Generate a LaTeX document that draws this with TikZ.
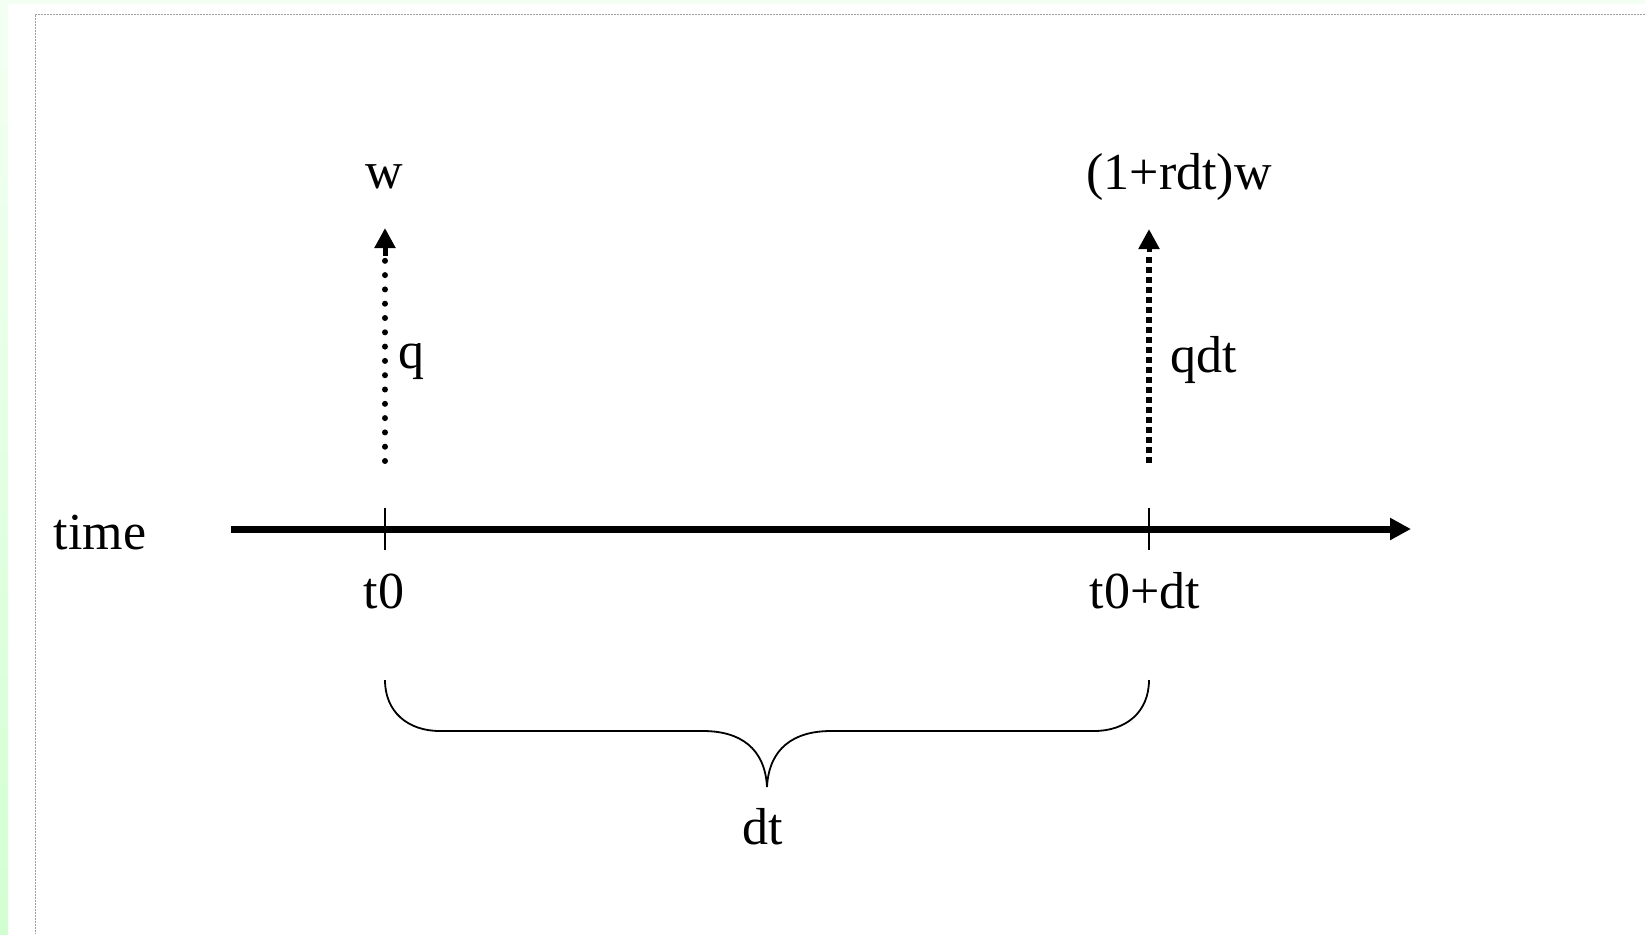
\documentclass[tikz,border=0pt]{standalone}
\usepackage{fontspec}
\setmainfont{Liberation Serif}
\usetikzlibrary{arrows.meta}
\definecolor{stripgreen}{HTML}{D2FFD2}
\definecolor{stripgreenpale}{HTML}{F4FFF4}
\tikzset{
  lbl/.style={inner sep=0pt, font=\fontsize{26}{30}\selectfont},
  axis/.style={line width=3.5pt, -{Triangle[length=10.5pt,width=10.5pt]}},
  tick/.style={line width=0.8pt},
  flowhead/.style={line width=2.5pt, -{Triangle[length=10pt,width=10pt]}},
  brace/.style={line width=0.9pt},
  frame/.style={draw=gray!75, line width=0.5pt, dash pattern=on 1pt off 0.5pt}
}
\begin{document}
\begin{tikzpicture}[x=0.5pt, y=-0.5pt]
  \useasboundingbox (0,0) rectangle (1645,934);
  % page edges
  \shade[top color=stripgreenpale, bottom color=stripgreen] (0,0) rectangle (8,934);
  \fill[stripgreenpale] (0,0) rectangle (1645,4);
  \draw[frame] (1645,14) -- (35,14) -- (35,934);

  % time axis
  \coordinate (axstart) at (231,529);
  \coordinate (axend) at (1411,529);
  \draw[axis] (axstart) -- (axend);
  \node[lbl] (time) at (100,533) {time};

  % instants on the axis
  \coordinate (t0) at (385,529);
  \coordinate (t1) at (1149,529);
  \draw[tick] (385,508) -- (385,550);
  \draw[tick] (1149,508) -- (1149,550);
  \node[lbl] (t0lbl) at (384,591) {t0};
  \node[lbl] (t1lbl) at (1145,591) {t0+dt};

  % payments at each instant
  \node[lbl] (w0) at (384,177) {w};
  \node[lbl] (w1) at (1179,177) {(1+rdt)w};
  \coordinate (q0base) at (385,464);
  \coordinate (q0neck) at (385,256);
  \coordinate (q0tip) at (385,228);
  \coordinate (q1base) at (1149,464);
  \coordinate (q1neck) at (1149,252);
  \coordinate (q1tip) at (1149,229);
  % round dots below w, square dots below (1+rdt)w
  \foreach \yy in {461,446.7,...,255} \fill (385,\yy) circle[radius=3];
  \foreach \yy in {460,450,...,252} \fill (1146.3,\yy-2.7) rectangle ++(5.4,5.4);
  \draw[flowhead] (q0neck) -- (q0tip);
  \draw[flowhead] (q1neck) -- (q1tip);
  \node[lbl, anchor=west] (q0) at (398,362) {q};
  \node[lbl, anchor=west] (q1) at (1170,360) {qdt};

  % interval brace
  \coordinate (bl) at (385,680);
  \coordinate (bm) at (767,787);
  \coordinate (br) at (1149,680);
  \draw[brace] (bl) .. controls (385,712) and (408,731) .. (440,731) -- (703,731)
    .. controls (740,731) and (765,748) .. (bm)
    .. controls (769,748) and (794,731) .. (831,731) -- (1094,731)
    .. controls (1126,731) and (1149,712) .. (br);
  \node[lbl] (dt) at (763,827) {dt};
\end{tikzpicture}
\end{document}
